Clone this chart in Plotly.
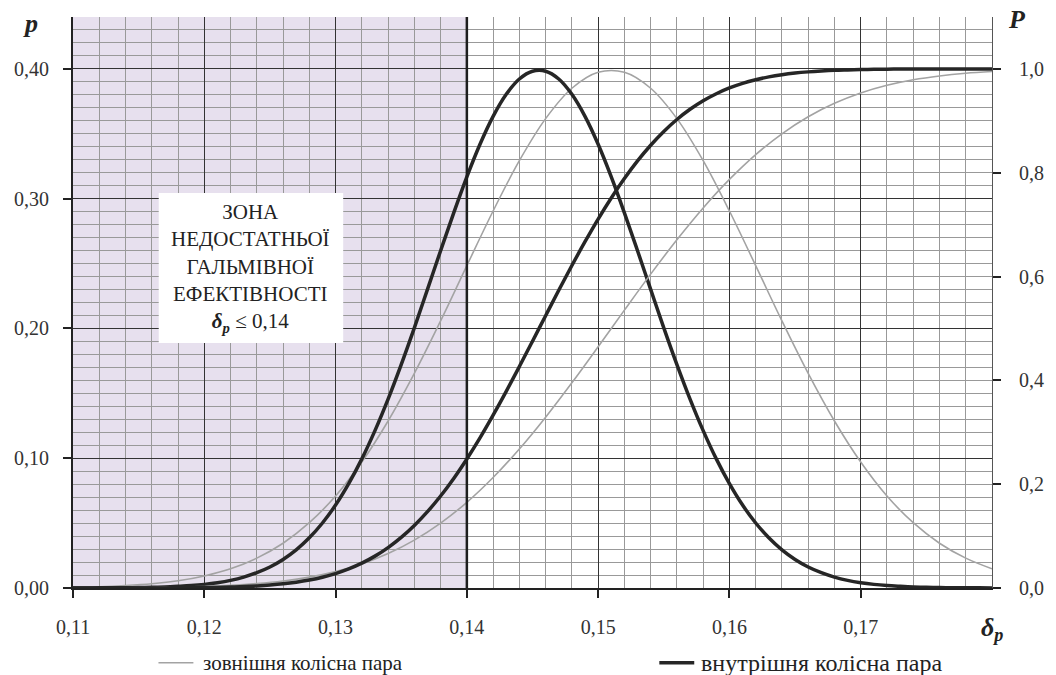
import plotly.graph_objects as go

# ---- data ----
# inner wheel pair (thick black), read every 0.001
inner_x = [0.110, 0.111, 0.112, 0.113, 0.114, 0.115, 0.116, 0.117, 0.118, 0.119,
           0.120, 0.121, 0.122, 0.123, 0.124, 0.125, 0.126, 0.127, 0.128, 0.129,
           0.130, 0.131, 0.132, 0.133, 0.134, 0.135, 0.136, 0.137, 0.138, 0.139,
           0.140, 0.141, 0.142, 0.143, 0.144, 0.145, 0.146, 0.147, 0.148, 0.149,
           0.150, 0.151, 0.152, 0.153, 0.154, 0.155, 0.156, 0.157, 0.158, 0.159,
           0.160, 0.161, 0.162, 0.163, 0.164, 0.165, 0.166, 0.167, 0.168, 0.169,
           0.170, 0.171, 0.172, 0.173, 0.174, 0.175, 0.176, 0.177, 0.178, 0.179, 0.180]
inner_p = [0.0000, 0.0000, 0.0001, 0.0001, 0.0002, 0.0003, 0.0005, 0.0008, 0.0013, 0.0019,
           0.0028, 0.0041, 0.0059, 0.0084, 0.0118, 0.0162, 0.0220, 0.0294, 0.0387, 0.0501,
           0.0639, 0.0804, 0.0995, 0.1213, 0.1456, 0.1722, 0.2005, 0.2301, 0.2599, 0.2891,
           0.3168, 0.3419, 0.3634, 0.3804, 0.3922, 0.3982, 0.3982, 0.3922, 0.3804, 0.3634,
           0.3419, 0.3168, 0.2891, 0.2599, 0.2301, 0.2005, 0.1722, 0.1456, 0.1213, 0.0995,
           0.0804, 0.0639, 0.0501, 0.0387, 0.0294, 0.0220, 0.0162, 0.0118, 0.0084, 0.0059,
           0.0041, 0.0028, 0.0019, 0.0013, 0.0008, 0.0005, 0.0003, 0.0002, 0.0001, 0.0001, 0.0000]
inner_P = [0.0000, 0.0000, 0.0000, 0.0000, 0.0001, 0.0001, 0.0001, 0.0002, 0.0003, 0.0005,
           0.0008, 0.0012, 0.0019, 0.0027, 0.0040, 0.0057, 0.0080, 0.0112, 0.0154, 0.0208,
           0.0278, 0.0367, 0.0478, 0.0614, 0.0778, 0.0974, 0.1204, 0.1470, 0.1772, 0.2111,
           0.2486, 0.2892, 0.3329, 0.3788, 0.4266, 0.4754, 0.5246, 0.5735, 0.6212, 0.6671,
           0.7108, 0.7514, 0.7889, 0.8228, 0.8530, 0.8796, 0.9026, 0.9222, 0.9386, 0.9522,
           0.9633, 0.9722, 0.9792, 0.9846, 0.9888, 0.9920, 0.9943, 0.9960, 0.9973, 0.9981,
           0.9988, 0.9992, 0.9995, 0.9997, 0.9998, 0.9999, 0.9999, 1.0000, 1.0000, 1.0000, 1.0000]

# outer wheel pair (thin grey), read every 0.002
outer_x = [0.110, 0.112, 0.114, 0.116, 0.118, 0.120, 0.122, 0.124, 0.126, 0.128,
           0.130, 0.132, 0.134, 0.136, 0.138, 0.140, 0.142, 0.144, 0.146, 0.148,
           0.150, 0.152, 0.154, 0.156, 0.158, 0.160, 0.162, 0.164, 0.166, 0.168,
           0.170, 0.172, 0.174, 0.176, 0.178, 0.180]
outer_p = [0.0006, 0.0010, 0.0019, 0.0033, 0.0056, 0.0093, 0.0148, 0.0230, 0.0345, 0.0503,
           0.0709, 0.0971, 0.1287, 0.1654, 0.2058, 0.2484, 0.2905, 0.3293, 0.3617, 0.3851,
           0.3974, 0.3974, 0.3851, 0.3617, 0.3293, 0.2905, 0.2484, 0.2058, 0.1654, 0.1287,
           0.0971, 0.0709, 0.0503, 0.0345, 0.0230, 0.0148]
outer_P = [0.0001, 0.0003, 0.0005, 0.0010, 0.0018, 0.0030, 0.0051, 0.0085, 0.0135, 0.0209,
           0.0316, 0.0464, 0.0663, 0.0922, 0.1250, 0.1651, 0.2129, 0.2678, 0.3291, 0.3953,
           0.4647, 0.5353, 0.6047, 0.6709, 0.7322, 0.7871, 0.8349, 0.8750, 0.9078, 0.9337,
           0.9536, 0.9684, 0.9791, 0.9865, 0.9916, 0.9949]

x_ticks = [0.11, 0.12, 0.13, 0.14, 0.15, 0.16, 0.17]
legend_names = ["зовнішня колісна пара", "внутрішня колісна пара"]
zone_lines = ["ЗОНА", "НЕДОСТАТНЬОЇ", "ГАЛЬМІВНОЇ", "ЕФЕКТІВНОСТІ"]
zone_limit = 0.14
x_range = [0.11, 0.18]
p_range = [0, 0.44]
P_range = [0, 1.1]

FONT = "Liberation Serif, Times New Roman, DejaVu Serif, serif"
THIN = "#a3a3a3"
THICK = "#262626"

fig = go.Figure()
fig.add_trace(go.Scatter(x=outer_x, y=outer_p, mode="lines",
                         line=dict(color=THIN, width=1.6, shape="spline"), showlegend=False))
fig.add_trace(go.Scatter(x=outer_x, y=outer_P, mode="lines",
                         line=dict(color=THIN, width=1.6, shape="spline"), yaxis="y2", showlegend=False))
fig.add_trace(go.Scatter(x=inner_x, y=inner_p, mode="lines",
                         line=dict(color=THICK, width=3.5, shape="spline"), showlegend=False))
fig.add_trace(go.Scatter(x=inner_x, y=inner_P, mode="lines",
                         line=dict(color=THICK, width=3.5, shape="spline"), yaxis="y2", showlegend=False))

shapes = [
    dict(type="rect", xref="x", yref="paper", x0=x_range[0], x1=zone_limit, y0=0, y1=1,
         fillcolor="#e7e0ee", line=dict(width=0), layer="below"),
    dict(type="line", xref="x", yref="paper", x0=zone_limit, x1=zone_limit, y0=0, y1=1,
         line=dict(color="#1e1e1e", width=2.5), layer="above"),
    dict(type="rect", xref="x", yref="y", x0=0.11653, x1=0.13058, y0=0.1888, y1=0.3044,
         fillcolor="white", line=dict(width=0), layer="above"),
    dict(type="line", xref="paper", yref="paper", x0=0.093, x1=0.131, y0=-0.131, y1=-0.131,
         line=dict(color=THIN, width=1.6)),
    dict(type="line", xref="paper", yref="paper", x0=0.638, x1=0.676, y0=-0.131, y1=-0.131,
         line=dict(color=THICK, width=3.5)),
]

zone_text = "<br>".join(zone_lines) + "<br><b><i>δ<sub>p</sub></i></b> ≤ 0,14"
annotations = [
    dict(xref="x", yref="y", x=(0.11653 + 0.13058) / 2, y=(0.1888 + 0.3044) / 2,
         text=zone_text, showarrow=False, font=dict(family=FONT, size=21, color="#222"),
         align="center", xanchor="center", yanchor="middle"),
    dict(xref="paper", yref="paper", x=-0.046, y=0.988, text="<b><i>p</i></b>", showarrow=False,
         font=dict(family=FONT, size=26, color="#222"), xanchor="center", yanchor="middle"),
    dict(xref="paper", yref="paper", x=1.027, y=0.995, text="<b><i>P</i></b>", showarrow=False,
         font=dict(family=FONT, size=26, color="#222"), xanchor="center", yanchor="middle"),
    dict(xref="paper", yref="paper", x=1.0, y=-0.072, text="<b><i>δ<sub>p</sub></i></b>", showarrow=False,
         font=dict(family=FONT, size=26, color="#222"), xanchor="center", yanchor="middle"),
    dict(xref="paper", yref="paper", x=0.1395, y=-0.131, text=legend_names[0], showarrow=False,
         font=dict(family=FONT, size=21, color="#222"), xanchor="left", yanchor="middle"),
    dict(xref="paper", yref="paper", x=0.681, y=-0.131, text=legend_names[1], showarrow=False,
         font=dict(family=FONT, size=24, color="#222"), xanchor="left", yanchor="middle"),
]

fig.update_layout(
    width=1056, height=675,
    margin=dict(l=73, r=51, t=17, b=87),
    paper_bgcolor="white", plot_bgcolor="white",
    separators=", ",
    font=dict(family=FONT, size=20, color="#333"),
    shapes=shapes, annotations=annotations,
    showlegend=False,
    xaxis=dict(range=x_range, tickvals=x_ticks, tickformat=".2f",
               showgrid=True, gridcolor="#333", gridwidth=1.4,
               minor=dict(dtick=0.002, tick0=0.11, showgrid=True, gridcolor="#999999", gridwidth=1),
               showline=True, linecolor="#222", linewidth=2,
               ticks="outside", ticklen=8, tickcolor="#222", tickwidth=2,
               ticklabelstandoff=12, zeroline=False),
    yaxis=dict(range=p_range, dtick=0.1, tick0=0, tickformat=".2f",
               showgrid=True, gridcolor="#333", gridwidth=1.4,
               minor=dict(dtick=0.01, showgrid=True, gridcolor="#999999", gridwidth=1),
               showline=True, linecolor="#222", linewidth=2,
               ticks="outside", ticklen=8, tickcolor="#222", tickwidth=2,
               ticklabelstandoff=10, zeroline=False),
    yaxis2=dict(range=P_range, dtick=0.2, tick0=0, tickformat=".1f", overlaying="y", side="right",
                showgrid=False, showline=True, linecolor="#555", linewidth=1,
                ticks="outside", ticklen=8, tickcolor="#222", tickwidth=2,
                ticklabelstandoff=14, zeroline=False),
)

fig.write_html("out.html")
